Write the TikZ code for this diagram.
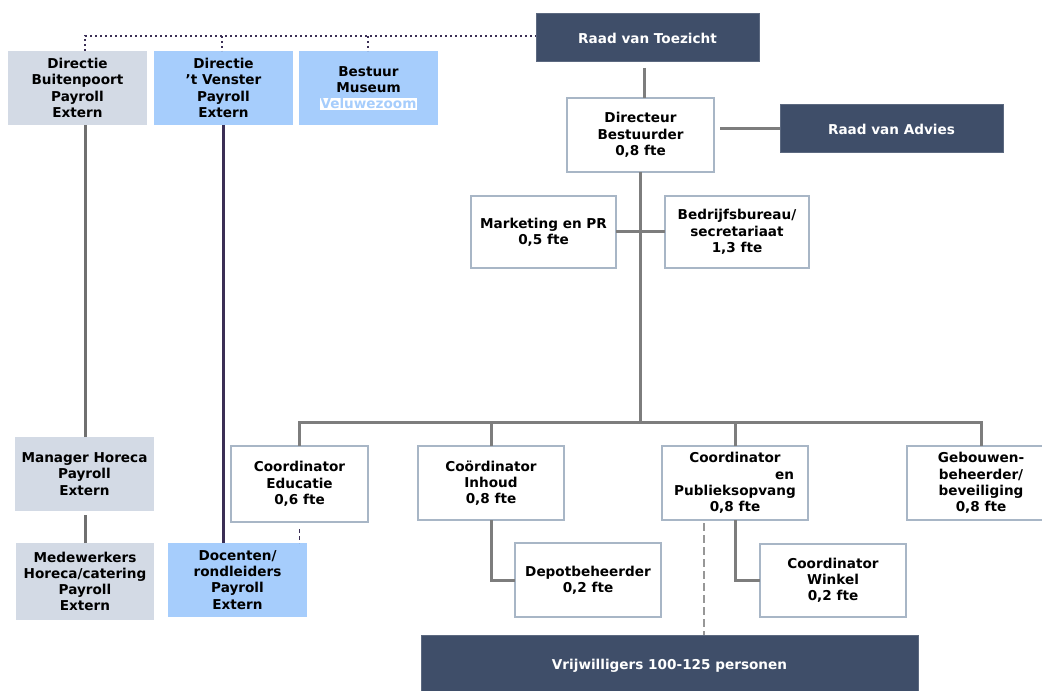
\documentclass[tikz,border=0pt]{standalone}
\usepackage{fontspec}
\setmainfont{DejaVu Sans}
\usetikzlibrary{calc}
\definecolor{darkbox}{RGB}{63,78,105}
\definecolor{grayfill}{RGB}{211,218,229}
\definecolor{bluefill}{RGB}{166,205,252}
\definecolor{border}{RGB}{168,182,198}
\definecolor{conn}{RGB}{125,125,125}
\definecolor{purp}{RGB}{59,47,85}
\newdimen\pxu \pxu=0.75pt
\newcommand\bx[7]{\node[#6, minimum width={(#4-#2)*0.75pt}, minimum height={(#5-#3)*0.75pt}] (#1) at ({(#2+#4)/2},{(#3+#5)/2}) {#7};}
\tikzset{
  base/.style={inner sep=0pt, outer sep=0pt, align=center, font=\fontsize{10.2}{12.2}\selectfont\bfseries},
  whitebox/.style={base, draw=border, line width=1.3\pxu, fill=white},
  darkb/.style={base, fill=darkbox, draw=darkbox!85!white, line width=1\pxu, text=white},
  grayb/.style={base, fill=grayfill},
  blueb/.style={base, fill=bluefill},
  cline/.style={draw=conn, line width=3\pxu},
  sideline/.style={draw=conn!110, line width=3\pxu},
  purpline/.style={draw=purp, line width=3\pxu},
  dotline/.style={draw=purp, line width=2.2\pxu, dash pattern=on 2.2\pxu off 2.8\pxu},
  dashp/.style={draw=purp, line width=1.5\pxu, dash pattern=on 4\pxu off 3\pxu},
  dashg/.style={draw=conn!80, line width=2\pxu, dash pattern=on 8\pxu off 4\pxu},
}
\begin{document}
\begin{tikzpicture}[x=0.75pt, y=-0.75pt]
\useasboundingbox (0,0) rectangle (1042,691);
\coordinate (dotA) at (85,36);
\coordinate (dotB) at (222,36);
\coordinate (dotC) at (368,36);
\coordinate (busY) at (0,422);
\coordinate (vd) at (704,523);
\coordinate (rvtL) at (644,0);
% boxes
\bx{rvt}{536}{14}{759}{62}{darkb}{Raad van Toezicht}
\bx{db}{8}{51}{147}{125}{grayb}{Directie\\Buitenpoort\\Payroll\\Extern}
\bx{dv}{154}{51}{293}{125}{blueb}{Directie\\’t Venster\\Payroll\\Extern}
\bx{bm}{299}{51}{438}{125}{blueb}{Bestuur\\Museum\\{\setlength{\fboxsep}{0.6pt}\colorbox{white}{\color{bluefill}Veluwezoom}}}
\bx{dir}{567}{98}{714}{172}{whitebox}{Directeur\\Bestuurder\\0,8 fte}
\bx{rva}{780}{105}{1003}{153}{darkb}{Raad van Advies}
\bx{mpr}{471}{196}{616}{268}{whitebox}{Marketing en PR\\0,5 fte}
\bx{bb}{665}{196}{809}{268}{whitebox}{Bedrijfsbureau/\\secretariaat\\1,3 fte}
\bx{ce}{231}{446}{368}{522}{whitebox}{Coordinator\\Educatie\\0,6 fte}
\bx{ci}{418}{446}{564}{520}{whitebox}{Coördinator\\Inhoud\\0,8 fte}
\bx{cp}{662}{446}{808}{520}{whitebox}{Coordinator\\\makebox[88.5pt][r]{en}\\Publieksopvang\\0,8 fte}
\bx{gb}{907}{446}{1055}{520}{whitebox}{Gebouwen-\\beheerder/\\beveiliging\\0,8 fte}
\bx{dp}{515}{543}{661}{617}{whitebox}{Depotbeheerder\\0,2 fte}
\bx{cw}{760}{544}{906}{617}{whitebox}{Coordinator\\Winkel\\0,2 fte}
\bx{vr}{421}{635}{918}{697}{darkb}{Vrijwilligers 100-125 personen}
\bx{mh}{15}{437}{154}{511}{grayb}{Manager Horeca\\Payroll\\Extern}
\bx{mw}{16}{543}{154}{620}{grayb}{Medewerkers\\Horeca/catering\\Payroll\\Extern}
\bx{doc}{168}{543}{307}{617}{blueb}{Docenten/\\rondleiders\\Payroll\\Extern}
% dotted top line
\draw[dotline] (dotA |- db.north) -- (dotA) -- (dotA -| rvt.west);
\draw[dotline] (dotB) -- (dotB |- dv.north);
\draw[dotline] (dotC) -- (dotC |- bm.north);
% left columns
\draw[sideline] (mh.north -| dotA) -- (db.south -| dotA);
\draw[sideline] (mw.north -| dotA) -- ([yshift=-4\pxu]mh.south -| dotA);
\draw[purpline] (dv.south) -- (dv.south |- doc.north);
\draw[dashp] ([yshift=-7\pxu]ce.south) -- (ce.south |- doc.north);
% main hierarchy
\draw[cline] ([yshift=-6\pxu]rvt.south -| rvtL) -- (dir.north -| rvtL);
\draw[cline] ([xshift=6\pxu]dir.east |- rva.west) -- (rva.west);
\draw[cline] (dir.south) -- (dir.south |- busY);
\draw[cline] (mpr.east) -- (bb.west);
\draw[cline] (ce.north) -- (ce.north |- busY) -- (gb.north |- busY) -- (gb.north);
\draw[cline] (ci.north) -- (ci.north |- busY);
\draw[cline] (cp.north) -- (cp.north |- busY);
\draw[cline] (ci.south) |- (dp.west);
\draw[cline] (cp.south) |- (cw.west);
\draw[dashg] (vd) -- (vd |- vr.north);
\end{tikzpicture}
\end{document}
